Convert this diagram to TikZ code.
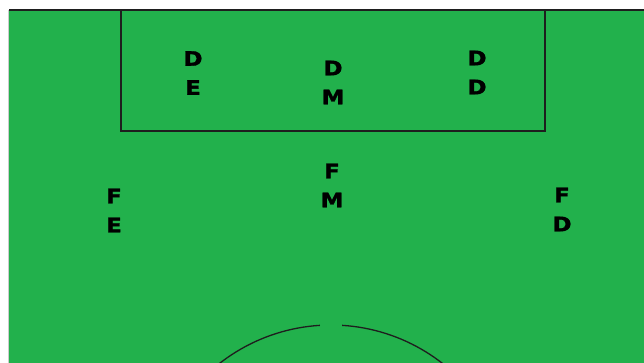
\documentclass[tikz,border=0pt]{standalone}
\usepackage{fontspec}
\usepackage{tikz}
\newfontfamily\pitchfont[FakeStretch=1.15,FakeBold=1.5]{DejaVu Sans Bold}
\definecolor{pitchgreen}{RGB}{34,177,76}
\definecolor{linegrey}{RGB}{30,30,30}
\tikzset{
  player/.style={align=center,inner sep=0pt,font=\pitchfont\fontsize{20}{29}\selectfont},
  pitchline/.style={linegrey,line width=1.4pt}
}
\begin{document}
\begin{tikzpicture}[x=1pt,y=-1pt]
\useasboundingbox (0,0) rectangle (644,363);
\clip (0,0) rectangle (644,363);

\fill[white] (0,0) rectangle (644,363);
\fill[pitchgreen] (9,10) rectangle (644,363);
\draw[gray!40,line width=1pt] (8.5,10) to (8.5,363);
\draw[pitchline] (9,10) to (644,10);
%%%%%%%%%%%%%%%%%%%% area
\draw[pitchline] (121,10) to (121,131) to (545,131) to (545,10);
%%%%%%%%%%%%%%%%%%%% centre circle
\coordinate (centre) at (331,506);
\draw[linegrey,line width=1.3pt] (centre) ++(-93.5:181) arc (-93.5:-150:181);
\draw[linegrey,line width=1.3pt] (centre) ++(-86.5:181) arc (-86.5:-30:181);
%%%%%%%%%%%%%%%%%%%% players
\node[player] (de) at (193,73) {D\\E};
\node[player] (dm) at (333,82.5) {D\\M};
\node[player] (dd) at (477,72.5) {D\\D};
\node[player] (fm) at (332,185.5) {F\\M};
\node[player] (fe) at (114,210.5) {F\\E};
\node[player] (fd) at (562,209.5) {F\\D};

\end{tikzpicture}
\end{document}
